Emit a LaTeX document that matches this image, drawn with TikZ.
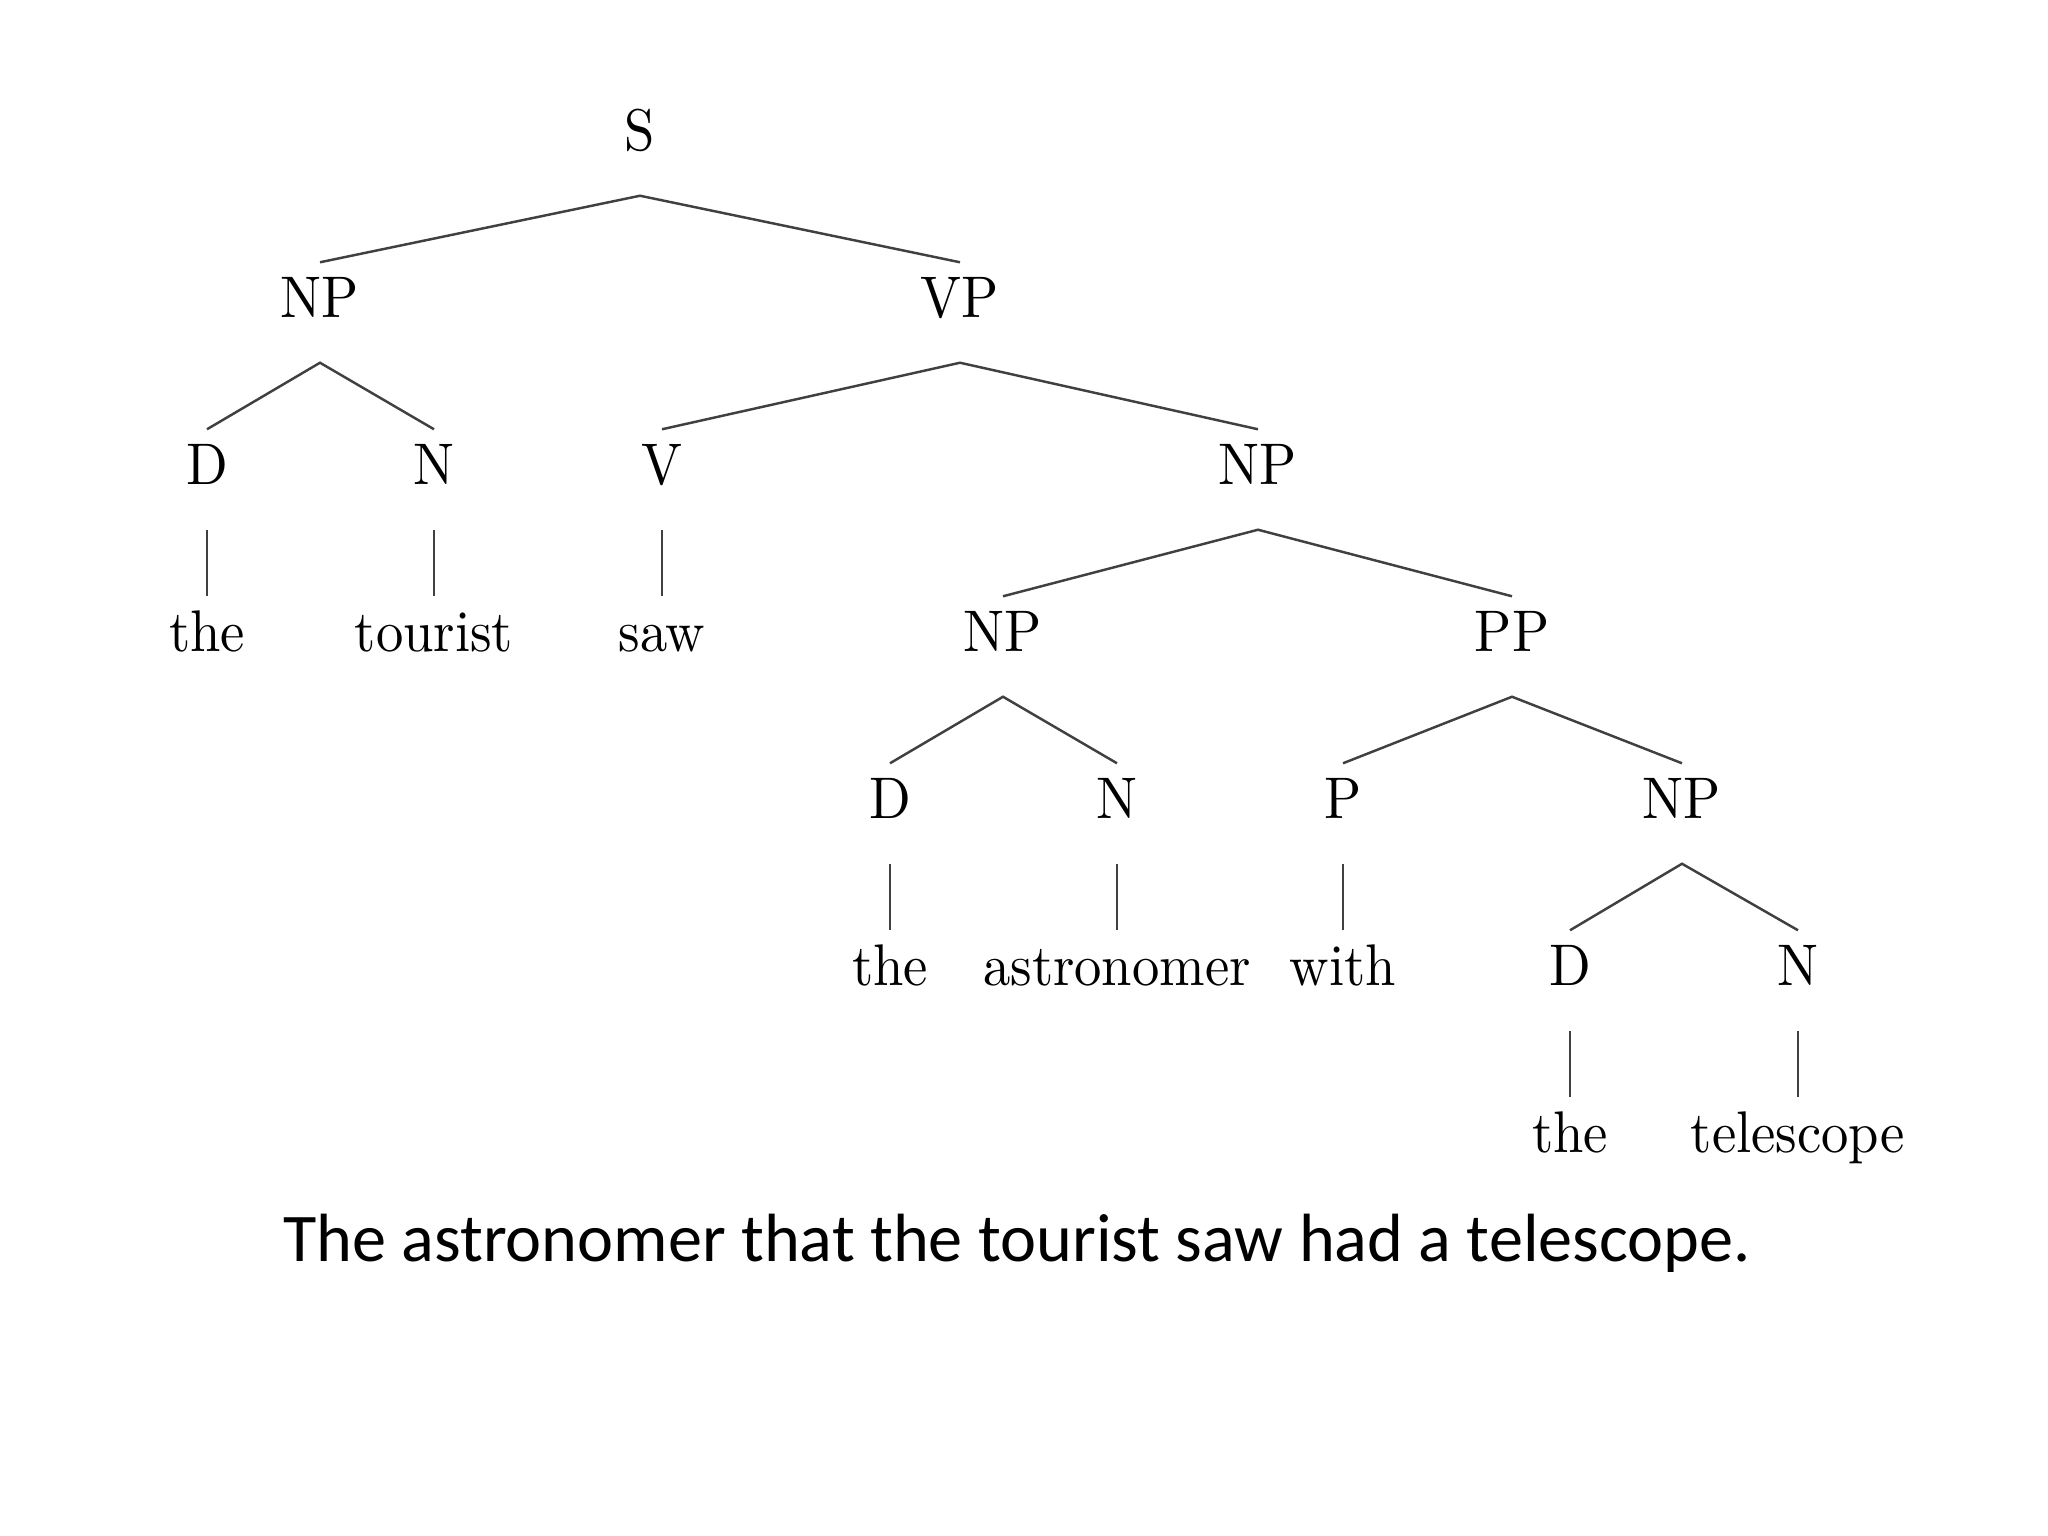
\documentclass[tikz,border=0pt]{standalone}
\usepackage{fontspec}
\newfontfamily\capfont{Carlito}
\newfontfamily\treefont{lmroman10-regular}[Extension=.otf]
\newcommand\tw[1]{\scalebox{0.93}[1]{#1}}
\begin{document}
\begin{tikzpicture}[x=0.01cm,y=-0.01cm,
  lbl/.style={inner sep=0pt, anchor=base, text height=0.54cm, text depth=0.45cm,
              font=\treefont\fontsize{16.7}{20}\selectfont},
  edge/.style={draw=black!75, line width=0.7pt}]
\useasboundingbox (0,0) rectangle (2048,1536);
% row 1
\node[lbl] (S) at (640,150) {\tw{S}};
% row 2
\node[lbl] (NPa) at (320,317) {\tw{NP}};
\node[lbl] (VP) at (960,317) {\tw{VP}};
% row 3
\node[lbl] (Da) at (207,484) {\tw{D}};
\node[lbl] (Na) at (434,484) {\tw{N}};
\node[lbl] (V) at (662,484) {\tw{V}};
\node[lbl] (NPb) at (1258,484) {\tw{NP}};
% row 4
\node[lbl] (the1) at (207,651) {\tw{the}};
\node[lbl] (tourist) at (434,651) {\tw{tourist}};
\node[lbl] (saw) at (662,651) {\tw{saw}};
\node[lbl] (NPc) at (1003,651) {\tw{NP}};
\node[lbl] (PP) at (1512,651) {\tw{PP}};
% row 5
\node[lbl] (Db) at (890,818) {\tw{D}};
\node[lbl] (Nb) at (1117,818) {\tw{N}};
\node[lbl] (P) at (1343,818) {\tw{P}};
\node[lbl] (NPd) at (1682,818) {\tw{NP}};
% row 6
\node[lbl] (the2) at (890,985) {\tw{the}};
\node[lbl] (astronomer) at (1117,985) {\tw{astronomer}};
\node[lbl] (with) at (1343,985) {\tw{with}};
\node[lbl] (Dc) at (1570,985) {\tw{D}};
\node[lbl] (Nc) at (1798,985) {\tw{N}};
% row 7
\node[lbl] (the3) at (1570,1152) {\tw{the}};
\node[lbl] (telescope) at (1798,1152) {\tw{telescope}};
% edges
\draw[edge] (NPa.north) -- (S.south) -- (VP.north);
\draw[edge] (Da.north) -- (NPa.south) -- (Na.north);
\draw[edge] (V.north) -- (VP.south) -- (NPb.north);
\draw[edge] (Da.south) -- (the1.north);
\draw[edge] (Na.south) -- (tourist.north);
\draw[edge] (V.south) -- (saw.north);
\draw[edge] (NPc.north) -- (NPb.south) -- (PP.north);
\draw[edge] (Db.north) -- (NPc.south) -- (Nb.north);
\draw[edge] (P.north) -- (PP.south) -- (NPd.north);
\draw[edge] (Db.south) -- (the2.north);
\draw[edge] (Nb.south) -- (astronomer.north);
\draw[edge] (P.south) -- (with.north);
\draw[edge] (Dc.north) -- (NPd.south) -- (Nc.north);
\draw[edge] (Dc.south) -- (the3.north);
\draw[edge] (Nc.south) -- (telescope.north);
% caption
\node[anchor=base, inner sep=0pt, font=\capfont\fontsize{19.4}{24}\selectfont] (cap) at (1017,1261)
  {The astronomer that the tourist saw had a telescope.};
\end{tikzpicture}
\end{document}
